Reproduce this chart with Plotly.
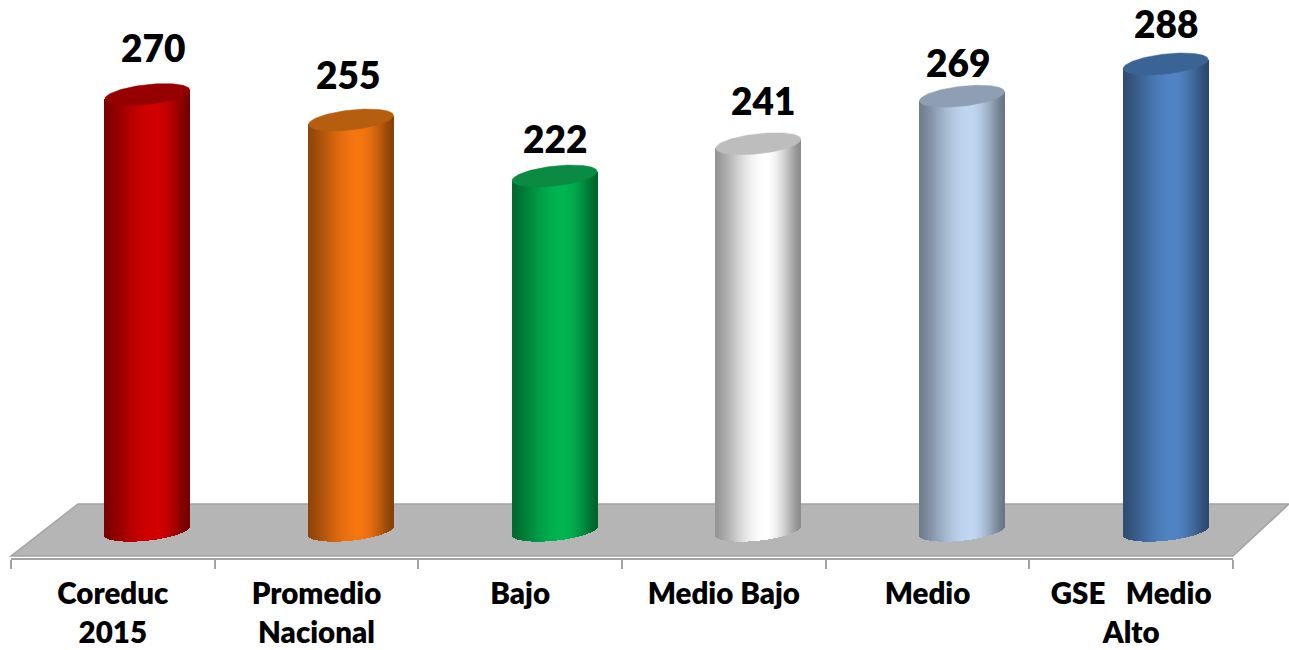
import numpy as np
import plotly.graph_objects as go

# Data
categories = ["Coreduc<br>2015", "Promedio<br>Nacional", "Bajo", "Medio Bajo", "Medio", "GSE   Medio<br>Alto"]
values = [270, 255, 222, 241, 269, 288]
side_colors = ["#d20000", "#f67610", "#00b551", "#ffffff", "#c0d7f2", "#5184c4"]
cap_colors = ["#960000", "#b55e10", "#0a8a42", "#bdbdbd", "#8e9fb3", "#3b6496"]
label_dx = [6, -3, 0, 5, -4, 0]
label_dy = [47, 46, 38, 43, 34, 41]

# Layout constants (pixels in the 1289x650 picture)
W, H = 1289, 650
LEFT, RIGHT, AXIS_Y = 11, 1233, 558
PX_PER_UNIT = 1.697
FLOOR_VALUE = 13
Y_MIN = 288 - (AXIS_Y - 64) / PX_PER_UNIT
Y_MAX = 288 + 64 / PX_PER_UNIT
PX_PER_CAT = (RIGHT - LEFT) / 6
DEPTH_OFFSET = 34.5 / PX_PER_CAT
HALF_WIDTH = 42.5 / PX_PER_CAT
ELL_H = 10.0 / PX_PER_UNIT
TILT = 4.5 / PX_PER_UNIT
N_STRIPS = 85


def rgb(hex_color):
    return np.array([int(hex_color[i:i + 2], 16) for i in (1, 3, 5)], dtype=float)


def shade(hex_color, u):
    left, right = 0.58, 0.55
    peak = 0.2
    t = (u + 1) / (1 + peak) if u < peak else (1 - u) / (1 - peak)
    edge = left if u < peak else right
    f = edge + (1 - edge) * np.sin(np.clip(t, 0, 1) * np.pi / 2) ** 1.3
    c = rgb(hex_color) * f
    return "rgb(%d,%d,%d)" % tuple(c)


fig = go.Figure()

for i, (v, side, cap) in enumerate(zip(values, side_colors, cap_colors)):
    cx = i + 0.5 + DEPTH_OFFSET
    us = (np.arange(N_STRIPS) + 0.5) / N_STRIPS * 2 - 1
    xs = cx + us * HALF_WIDTH
    bases = FLOOR_VALUE + TILT * us - ELL_H * np.sqrt(1 - us ** 2)
    tops = v + TILT * us
    fig.add_trace(go.Bar(
        x=xs, y=tops - bases, base=bases,
        width=2 * HALF_WIDTH / N_STRIPS,
        marker=dict(color=[shade(side, u) for u in us], line=dict(width=0)),
        hoverinfo="skip", showlegend=False,
    ))
    theta = np.linspace(0, 2 * np.pi, 121)
    fig.add_trace(go.Scatter(
        x=cx + HALF_WIDTH * np.cos(theta),
        y=v + TILT * np.cos(theta) + ELL_H * np.sin(theta),
        mode="lines", fill="toself", fillcolor=cap,
        line=dict(color=cap, width=0.5),
        hoverinfo="skip", showlegend=False,
    ))
    fig.add_annotation(
        x=cx, y=v, text=str(v), showarrow=False,
        xshift=label_dx[i], yshift=label_dy[i],
        font=dict(family="Lato", size=37, color="#000000", weight=800),
    )

# Floor of the chart
pw, ph = RIGHT - LEFT, AXIS_Y
fx = lambda p: (p - LEFT) / pw
fy = lambda p: (AXIS_Y - p) / ph
fig.add_shape(
    type="path", xref="paper", yref="paper", layer="below",
    path=f"M {fx(11)} {fy(556)} L {fx(78)} {fy(504)} L {fx(1289)} {fy(504)} L {fx(1233)} {fy(556)} Z",
    fillcolor="#b5b5b5", line=dict(color="#a3a3a3", width=1.5),
)

fig.update_layout(
    width=W, height=H,
    margin=dict(l=LEFT, r=W - RIGHT, t=0, b=H - AXIS_Y, pad=0),
    paper_bgcolor="#ffffff", plot_bgcolor="rgba(0,0,0,0)",
    barmode="overlay", bargap=0, showlegend=False,
    xaxis=dict(
        range=[0, 6], showgrid=False, zeroline=False, fixedrange=True,
        automargin=False,
        showline=True, linecolor="#a3a3a3", linewidth=2,
        tickmode="array",
        tickvals=[k + 0.5 for k in range(6)],
        ticktext=categories,
        ticks="", ticklabelstandoff=9,
        tickfont=dict(family="Lato", size=29.5, color="#000000", weight=800),
        minor=dict(tickmode="array", tickvals=list(range(7)), ticks="outside",
                   ticklen=9, tickwidth=1.5, tickcolor="#a3a3a3", showgrid=False),
    ),
    yaxis=dict(range=[Y_MIN, Y_MAX], visible=False, fixedrange=True, automargin=False),
)

fig.write_html("out.html", config={"displayModeBar": False},
               post_script="document.body.style.margin='0';")
